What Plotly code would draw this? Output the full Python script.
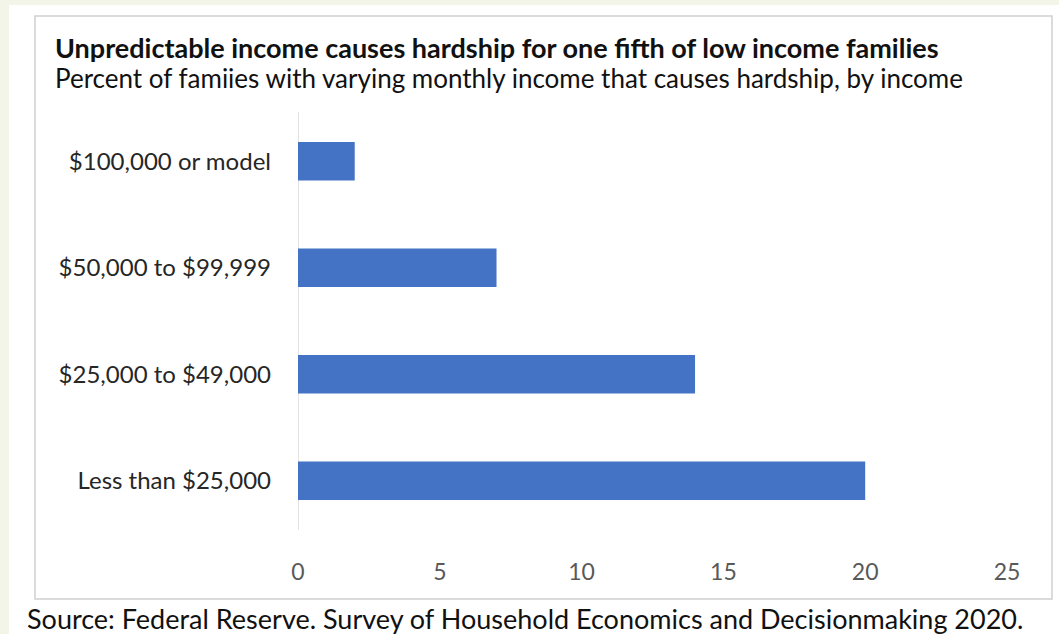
import plotly.graph_objects as go

categories = ["Less than $25,000", "$25,000 to $49,000", "$50,000 to $99,999", "$100,000 or model"]
values = [20, 14, 7, 2]
tick_vals = [0, 5, 10, 15, 20, 25]

W, H = 1059, 634
L, R, T, B = 298, 52, 108, 100
PW, PH = W - L - R, H - T - B

def px(x):
    return (x - L) / PW

def py(y):
    return (H - B - y) / PH

FONT = "Lato"

fig = go.Figure(go.Bar(
    y=categories, x=values, orientation="h",
    marker=dict(color="#4472c4", line=dict(width=0)),
    width=0.36,
))

fig.update_layout(
    width=W, height=H,
    margin=dict(l=L, r=R, t=T, b=B),
    paper_bgcolor="#f4f5e9",
    plot_bgcolor="rgba(0,0,0,0)",
    showlegend=False,
    font=dict(family=FONT),
    xaxis=dict(range=[0, 25], tickvals=tick_vals, showgrid=False, zeroline=False,
               showline=False, ticks="", ticklabelstandoff=22,
               tickfont=dict(size=23, color="#595959", family=FONT)),
    yaxis=dict(showgrid=False, zeroline=False, showline=False, ticks="",
               ticklabelstandoff=26,
               tickfont=dict(size=24, color="#262626", family=FONT)),
    shapes=[
        dict(type="rect", xref="paper", yref="paper", x0=px(9), x1=px(W + 5), y0=py(5), y1=py(H + 5),
             fillcolor="white", line=dict(width=0), layer="below"),
        dict(type="rect", xref="paper", yref="paper", x0=px(35), x1=px(1052), y0=py(16), y1=py(599),
             fillcolor="rgba(0,0,0,0)", line=dict(color="#d0d0d0", width=1.5), layer="below"),
        dict(type="line", xref="x", yref="paper", x0=0, x1=0, y0=py(112), y1=py(530),
             line=dict(color="#d9d9d9", width=1.5), layer="below"),
    ],
    annotations=[
        dict(text="<b>Unpredictable income causes hardship for one fifth of low income families</b>",
             xref="paper", yref="paper", x=px(53), y=py(48), xanchor="left", yanchor="middle",
             showarrow=False, font=dict(size=27, color="#111111", family=FONT)),
        dict(text="Percent of famiies with varying monthly income that causes hardship, by income",
             xref="paper", yref="paper", x=px(53), y=py(78), xanchor="left", yanchor="middle",
             showarrow=False, font=dict(size=26, color="#111111", family=FONT)),
        dict(text="Source: Federal Reserve. Survey of Household Economics and Decisionmaking 2020.",
             xref="paper", yref="paper", x=px(25), y=py(618), xanchor="left", yanchor="middle",
             showarrow=False, font=dict(size=27, color="#111111", family=FONT)),
    ],
)

fig.write_html("out.html")
